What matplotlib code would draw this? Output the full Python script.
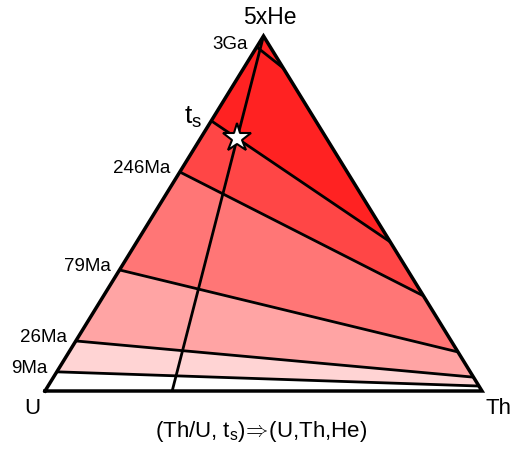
import numpy as np
import matplotlib.pyplot as plt
from matplotlib.patches import Polygon

plt.rcParams['font.family'] = ['Liberation Sans', 'DejaVu Sans']
plt.rcParams['mathtext.fontset'] = 'custom'
plt.rcParams['mathtext.rm'] = 'Liberation Sans'

# isochrons: He fraction where each line meets the U-He side and the Th-He side
ages = ['3Ga', r'$\mathregular{t_s}$', '246Ma', '79Ma', '26Ma', '9Ma']
he_left = [0.969, 0.761, 0.617, 0.341, 0.141, 0.054]
he_right = [0.910, 0.420, 0.268, 0.110, 0.039, 0.014]
# fills from the apex down to the U-Th side (bands bounded by t_s ... 9Ma)
band_colors = ['#ff2222', '#ff4646', '#ff7676', '#ffa4a4', '#ffd4d4', '#ffffff']
th_frac = 0.291  # foot of the constant Th/U line on the U-Th side


def left_pt(h):
    return 0.5 * h, h


def right_pt(h):
    return 1 - 0.5 * h, h


fig = plt.figure(figsize=(5.27, 4.56), dpi=100)
ax = fig.add_axes([45 / 527, 64 / 456, 437 / 527, 355 / 456])
ax.set_xlim(0, 1)
ax.set_ylim(0, 1)
ax.axis('off')

# colour bands
upper_l = [1.0] + he_left[1:]
upper_r = [1.0] + he_right[1:]
lower_l = he_left[1:] + [0.0]
lower_r = he_right[1:] + [0.0]
for hl1, hr1, hl2, hr2, c in zip(upper_l, upper_r, lower_l, lower_r, band_colors):
    pts = [left_pt(hl1), right_pt(hr1), right_pt(hr2), left_pt(hl2)]
    ax.add_patch(Polygon(pts, closed=True, facecolor=c, edgecolor='none'))

# isochron lines and labels
for lab, hl, hr in zip(ages, he_left, he_right):
    (x0, y0), (x1, y1) = left_pt(hl), right_pt(hr)
    ax.plot([x0, x1], [y0, y1], color='black', lw=2, solid_capstyle='butt')
    fs = 19 if lab.startswith('$') else 13.5
    ax.annotate(lab, (x0, y0), xytext=(-9, 4), textcoords='offset pixels',
                ha='right', va='center', fontsize=fs)

# constant Th/U line
ax.plot([th_frac, 0.5], [0, 1], color='black', lw=2)

# star at (Th/U, t_s)
(ax0, ay0), (ax1, ay1) = left_pt(he_left[1]), right_pt(he_right[1])
A = np.array([[ax1 - ax0, -(0.5 - th_frac)], [ay1 - ay0, -1.0]])
b = np.array([th_frac - ax0, 0 - ay0])
s, t = np.linalg.solve(A, b)
ax.plot(ax0 + s * (ax1 - ax0), ay0 + s * (ay1 - ay0), marker='*', ms=21,
        mfc='white', mec='black', mew=1.5, zorder=5)

# triangle outline
tri = np.array([[0, 0], [1, 0], [0.5, 1], [0, 0]])
ax.plot(tri[:, 0], tri[:, 1], color='black', lw=2.5, solid_joinstyle='miter',
        clip_on=False)

ax.annotate('5xHe', (0.5, 1), xytext=(6, 20), textcoords='offset pixels',
            ha='center', va='center', fontsize=16.5)
ax.annotate('U', (0, 0), xytext=(-13, -17), textcoords='offset pixels',
            ha='center', va='center', fontsize=16)
ax.annotate('Th', (1, 0), xytext=(17, -17), textcoords='offset pixels',
            ha='center', va='center', fontsize=16)

fig.text(261 / 527, 1 - 432 / 456,
         r'(Th/U, $\mathregular{t_s}$)$\!\Rightarrow\!$(U,Th,He)',
         ha='center', va='center', fontsize=16)

fig.savefig('out.png', dpi=100)
